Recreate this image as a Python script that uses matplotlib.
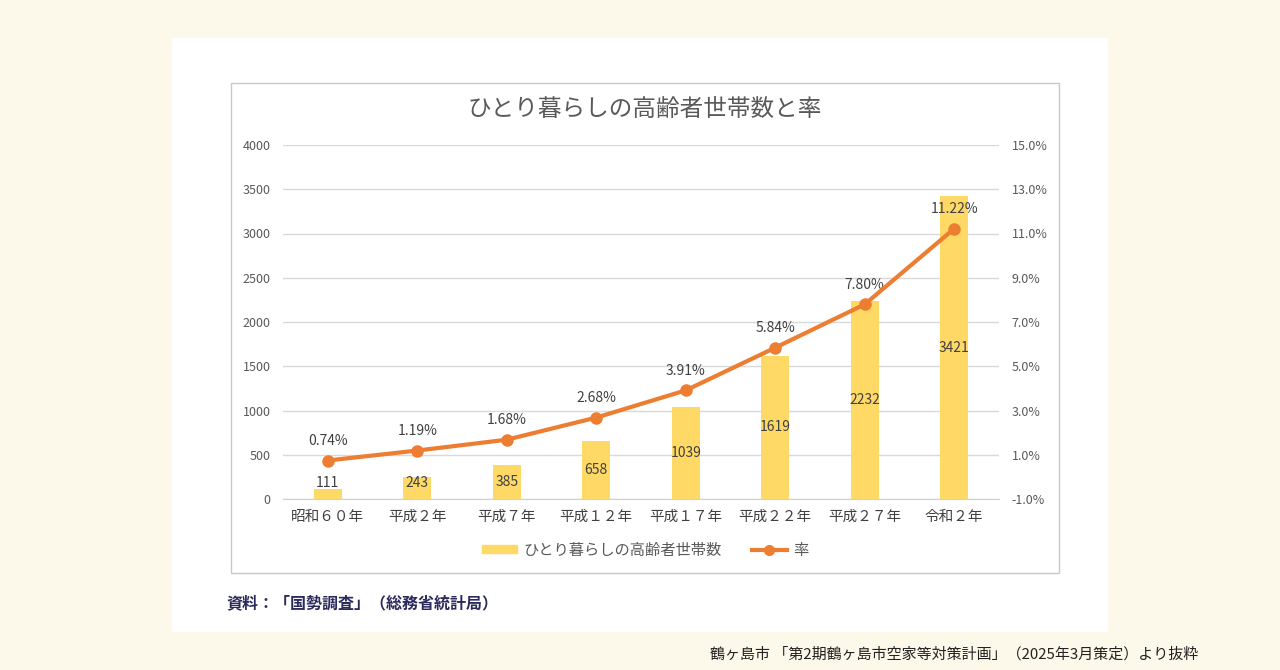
import numpy as np
import matplotlib.pyplot as plt
from matplotlib.patches import Rectangle
from matplotlib.lines import Line2D

plt.rcParams['font.family'] = ['Noto Sans CJK JP', 'DejaVu Sans']

# data
years = ["昭和６０年", "平成２年", "平成７年", "平成１２年",
         "平成１７年", "平成２２年", "平成２７年", "令和２年"]
households = [111, 243, 385, 658, 1039, 1619, 2232, 3421]
rates = [0.74, 1.19, 1.68, 2.68, 3.91, 5.84, 7.80, 11.22]
left_ticks = [0, 500, 1000, 1500, 2000, 2500, 3000, 3500, 4000]
right_ticks = [-1, 1, 3, 5, 7, 9, 11, 13, 15]

W, H = 1280, 670
fig = plt.figure(figsize=(W / 100, H / 100), dpi=100)
fig.patch.set_facecolor("#fcf8ea")

def px_rect(x0, y0, x1, y1, **kw):
    # rectangle given in pixel coords (top-left origin)
    return Rectangle((x0 / W, 1 - y1 / H), (x1 - x0) / W, (y1 - y0) / H,
                     transform=fig.transFigure, **kw)

fig.patches.append(px_rect(172, 38, 1108, 632, facecolor="white", edgecolor="none", zorder=-2))
fig.patches.append(px_rect(231, 83, 1059, 573, facecolor="white", edgecolor="#c8c8c8", lw=1, zorder=-1))

ax = fig.add_axes([283 / W, 1 - 499 / H, 716 / W, 354 / H])
ax.set_facecolor("none")
x = np.arange(len(years))

ax.bar(x, households, width=0.31, color="#ffd966", zorder=2)
for xi, v in zip(x, households):
    ax.text(xi, max(v / 2, 180), str(v), ha="center", va="center",
            fontsize=10, color="#404040", zorder=5)

ax.set_xlim(-0.5, len(years) - 0.5)
ax.set_ylim(0, 4000)
ax.set_yticks(left_ticks)
ax.set_xticks(x)
ax.set_xticklabels(years, fontsize=10.5, color="#404040")
ax.tick_params(axis="y", labelsize=9, colors="#595959", length=0, pad=9)
ax.tick_params(axis="x", length=0, pad=8)
ax.grid(axis="y", color="#d9d9d9", lw=1)
ax.set_axisbelow(True)
for s in ["top", "left", "right"]:
    ax.spines[s].set_visible(False)
ax.spines["bottom"].set_color("#d0d0d0")

ax2 = ax.twinx()
ax2.set_ylim(-1, 15)
ax2.set_yticks(right_ticks)
ax2.set_yticklabels(["%.1f%%" % t for t in right_ticks])
ax2.tick_params(axis="y", labelsize=9, colors="#595959", length=0, pad=9)
for s in ax2.spines.values():
    s.set_visible(False)
ax2.plot(x, rates, color="#ed7d31", lw=3, marker="o", markersize=8, zorder=4)
for xi, r in zip(x, rates):
    ax2.annotate("%.2f%%" % r, (xi, r), xytext=(0, 9), textcoords="offset points",
                 ha="center", va="bottom", fontsize=10, color="#404040")

fig.text(645 / W, 1 - 110 / H, "ひとり暮らしの高齢者世帯数と率", ha="center", va="center",
         fontsize=17, color="#595959")

handles = [Rectangle((0, 0), 1, 1, color="#ffd966"),
           Line2D([], [], color="#ed7d31", lw=3, marker="o", markersize=7)]
fig.legend(handles, ["ひとり暮らしの高齢者世帯数", "率"], loc="center",
           bbox_to_anchor=(645 / W, 1 - 550 / H), ncol=2, frameon=False,
           fontsize=11, labelcolor="#595959", handlelength=2.3, columnspacing=2,
           handleheight=0.35, handletextpad=0.4)

fig.text(226 / W, 1 - 603 / H, "資料：「国勢調査」（総務省統計局）", ha="left", va="center",
         fontsize=11.5, fontweight="bold", color="#2b2a5c")
fig.text(1198 / W, 1 - 654 / H, "鶴ヶ島市 「第2期鶴ヶ島市空家等対策計画」（2025年3月策定）より抜粋",
         ha="right", va="center", fontsize=10.8, color="#222222")

fig.savefig("out.png", dpi=100, facecolor=fig.get_facecolor())
